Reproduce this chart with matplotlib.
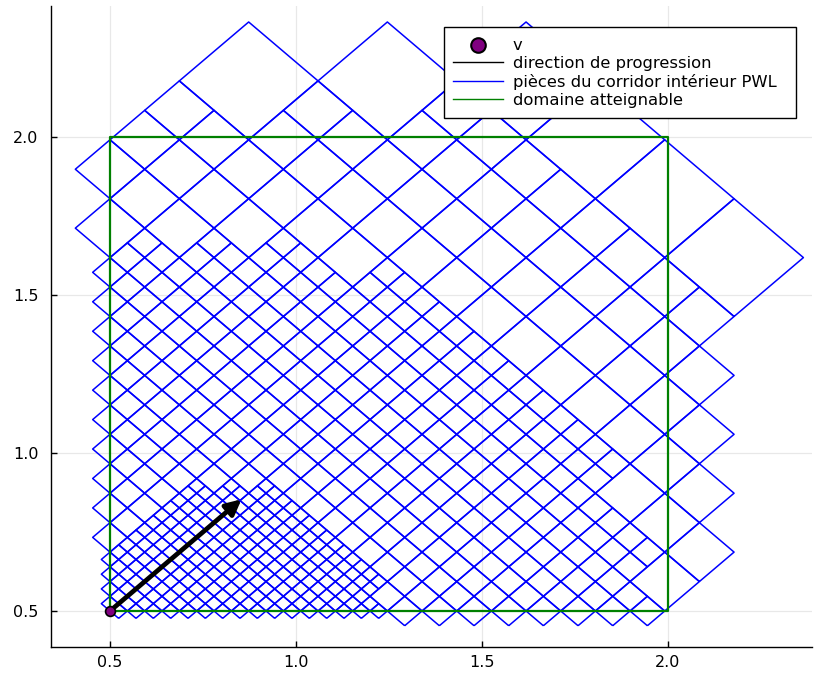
import numpy as np
import matplotlib
matplotlib.use("Agg")
import matplotlib.pyplot as plt
from matplotlib.collections import LineCollection
from matplotlib.lines import Line2D
from matplotlib.patches import Rectangle

# point de départ et direction de progression
v = (0.5, 0.5)
direction = (1 / np.sqrt(2), 1 / np.sqrt(2))
arrow_len = 0.5

# domaine atteignable
dom_x = [0.5, 2.0]
dom_y = [0.5, 2.0]

# grille du corridor dans les coordonnees s = x + y, t = y - x (unites de h0)
h0 = 0.0466
S_range = [0, 64]
T_range = [-32, 32]

# blocs de taille 8 non raffinés
coarse_blocks = [(40, 24), (48, 16), (56, 8), (56, 0), (56, -8), (56, -16)]
# blocs de taille 4 non raffinés malgré la règle
keep4_blocks = [(36, 8), (36, -24)]

# limites des zones raffinées (centre du bloc, en unites de h0): S+T, S-T, S, T
fine2_limits = {"sum": 48, "diff": 60, "s": 38, "t": 99}
fine1_limits = {"sum": 16, "diff": 30, "s": 17, "t": 3}

labels = ["v", "direction de progression",
          "pièces du corridor intérieur PWL", "domaine atteignable"]


def refine(sc, tc, lim):
    return (sc + tc <= lim["sum"] and sc - tc <= lim["diff"]
            and sc <= lim["s"] and tc <= lim["t"])


tiles = []
for S8 in range(S_range[0], S_range[1], 8):
    for T8 in range(T_range[0], T_range[1], 8):
        if (S8, T8) in coarse_blocks:
            tiles.append((S8, T8, 8))
            continue
        for S4 in (S8, S8 + 4):
            for T4 in (T8, T8 + 4):
                if (S4, T4) in keep4_blocks or not refine(S4 + 2, T4 + 2, fine2_limits):
                    tiles.append((S4, T4, 4))
                    continue
                for S2 in (S4, S4 + 2):
                    for T2 in (T4, T4 + 2):
                        if not refine(S2 + 1, T2 + 1, fine1_limits):
                            tiles.append((S2, T2, 2))
                            continue
                        for S1 in (S2, S2 + 1):
                            for T1 in (T2, T2 + 1):
                                tiles.append((S1, T1, 1))


def to_xy(S, T):
    s = 1 + S * h0
    t = T * h0
    return ((s - t) / 2, (s + t) / 2)


def overlaps_domain(S0, T0, n):
    eps = 1e-9
    a = n * h0 / 2
    cx, cy = to_xy(S0 + n / 2, T0 + n / 2)
    ok_x = cx + a > dom_x[0] + eps and cx - a < dom_x[1] - eps
    ok_y = cy + a > dom_y[0] + eps and cy - a < dom_y[1] - eps
    s0, s1 = 1 + S0 * h0, 1 + (S0 + n) * h0
    t0, t1 = T0 * h0, (T0 + n) * h0
    ok_s = s1 > dom_x[0] + dom_y[0] + eps and s0 < dom_x[1] + dom_y[1] - eps
    ok_t = t1 > dom_y[0] - dom_x[1] + eps and t0 < dom_y[1] - dom_x[0] - eps
    return ok_x and ok_y and ok_s and ok_t


segs = []
for S0, T0, n in tiles:
    if not overlaps_domain(S0, T0, n):
        continue
    corners = [(S0, T0), (S0 + n, T0), (S0 + n, T0 + n), (S0, T0 + n), (S0, T0)]
    segs.append([to_xy(S, T) for S, T in corners])

fig = plt.figure(figsize=(8.14, 6.75), dpi=100)
ax = fig.add_axes([51 / 814, 28 / 675, 761 / 814, 641 / 675])

ax.add_collection(LineCollection(segs, colors="#0000ff", linewidths=1.1, zorder=2))

# domaine
ax.plot([dom_x[0], dom_x[1], dom_x[1], dom_x[0], dom_x[0]],
        [dom_y[0], dom_y[0], dom_y[1], dom_y[1], dom_y[0]],
        color="#008000", lw=1.6, zorder=3)

tip = (v[0] + arrow_len * direction[0], v[1] + arrow_len * direction[1])
ax.annotate("", xy=tip, xytext=v,
            arrowprops=dict(arrowstyle="-|>,head_length=0.9,head_width=0.45",
                            lw=3.4, color="black", shrinkA=0, shrinkB=0),
            zorder=4)
ax.scatter([v[0]], [v[1]], s=50, color="#800080", edgecolors="black",
           linewidths=1.2, zorder=5)

ax.set_xlim(0.3414, 2.3871)
ax.set_ylim(0.3861, 2.4146)
ax.set_xticks([0.5, 1.0, 1.5, 2.0])
ax.set_yticks([0.5, 1.0, 1.5, 2.0])
ax.tick_params(direction="in", length=4, width=1, labelsize=11.5, color="black")
ax.tick_params(axis="y", pad=9)
ax.tick_params(axis="x", pad=6)
for side in ("top", "right"):
    ax.spines[side].set_visible(False)
for side in ("left", "bottom"):
    ax.spines[side].set_linewidth(1.0)
ax.grid(True, color="#e8e8e8", lw=0.9)
ax.set_axisbelow(True)

# cadre de la légende
fig.add_artist(Rectangle((444 / 814, 1 - 118 / 675), 352 / 814, 91 / 675,
                         transform=fig.transFigure, facecolor="white",
                         edgecolor="black", lw=1.0, zorder=3))

handles = [
    Line2D([], [], ls="none", marker="o", markersize=10.5, markerfacecolor="#800080",
           markeredgecolor="black", markeredgewidth=1.5),
    Line2D([], [], color="black", lw=1.0),
    Line2D([], [], color="#0000ff", lw=1.0),
    Line2D([], [], color="#008000", lw=1.0),
]
leg = fig.legend(handles, labels, loc="upper left",
                 bbox_to_anchor=(453 / 814, 1 - 38.5 / 675),
                 fontsize=11.8, frameon=False, handlelength=3.05,
                 handletextpad=0.59, borderpad=0, labelspacing=0.165,
                 borderaxespad=0)
leg.set_zorder(6)

fig.savefig("out.png", dpi=100)
